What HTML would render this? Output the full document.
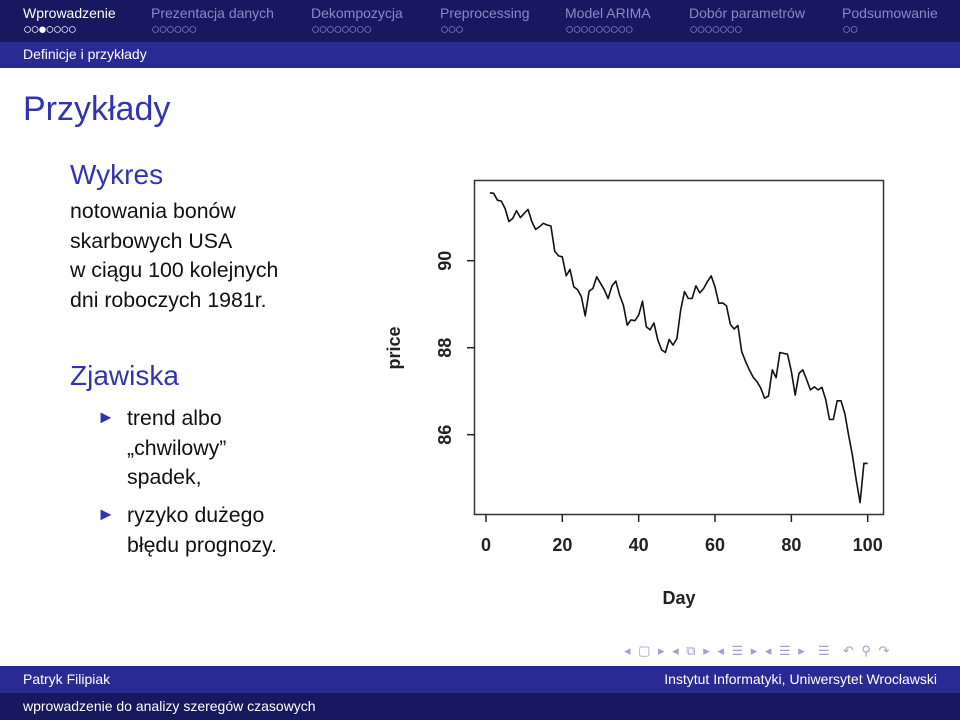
<!DOCTYPE html>
<html><head><meta charset="utf-8">
<style>
body{margin:0;width:960px;height:720px;position:relative;overflow:hidden;background:#fff;font-family:"Liberation Sans",sans-serif;}
.abs{position:absolute;white-space:nowrap;}
#top{left:0;top:0;width:960px;height:42px;background:#181860;}
#sub{left:0;top:42px;width:960px;height:26px;background:#2a2a94;}
.sec{top:5px;font-size:14px;color:#8a8ac4;}
.dots{top:21px;font-size:15px;color:#8a8ac4;letter-spacing:-1.6px;}
.blue{color:#3333b2;}
.txt{font-size:21.3px;color:#111;line-height:29.5px;}
#f1{left:0;top:666px;width:960px;height:27px;background:#2a2a94;}
#f2{left:0;top:693px;width:960px;height:27px;background:#181860;}
</style></head><body>
<div class="abs" id="top"></div>
<div class="abs sec" style="left:23px;color:#fff">Wprowadzenie</div>
<div class="abs sec" style="left:151px">Prezentacja danych</div>
<div class="abs sec" style="left:311px">Dekompozycja</div>
<div class="abs sec" style="left:440px">Preprocessing</div>
<div class="abs sec" style="left:565px">Model ARIMA</div>
<div class="abs sec" style="left:689px">Dobór parametrów</div>
<div class="abs sec" style="left:842px">Podsumowanie</div>
<div class="abs dots" style="left:23px;color:#fff">○○●○○○○</div>
<div class="abs dots" style="left:151px">○○○○○○</div>
<div class="abs dots" style="left:311px">○○○○○○○○</div>
<div class="abs dots" style="left:440px">○○○</div>
<div class="abs dots" style="left:565px">○○○○○○○○○</div>
<div class="abs dots" style="left:689px">○○○○○○○</div>
<div class="abs dots" style="left:842px">○○</div>
<div class="abs" id="sub"></div>
<div class="abs" style="left:23px;top:46px;font-size:14px;color:#fff">Definicje i przykłady</div>

<div class="abs blue" style="left:23px;top:90px;font-size:34px">Przykłady</div>
<div class="abs blue" style="left:70px;top:159px;font-size:28px">Wykres</div>
<div class="abs txt" style="left:70px;top:197px">notowania bonów<br>skarbowych USA<br>w ciągu 100 kolejnych<br>dni roboczych 1981r.</div>
<div class="abs blue" style="left:70px;top:360px;font-size:28px">Zjawiska</div>
<div class="abs blue" style="left:97px;top:407px;font-size:18px">►</div>
<div class="abs txt" style="left:127px;top:404px">trend albo<br>„chwilowy”<br>spadek,</div>
<div class="abs blue" style="left:97px;top:504px;font-size:18px">►</div>
<div class="abs txt" style="left:127px;top:501px">ryzyko dużego<br>błędu prognozy.</div>

<svg id="chart" class="abs" style="left:0;top:0" width="960" height="720"></svg>

<div class="abs" style="left:624px;top:643px;font-size:13px;color:#a0a0cc;letter-spacing:2px">◂ ▢ ▸ ◂ ⧉ ▸ ◂ ☰ ▸ ◂ ☰ ▸ &nbsp;☰ &nbsp;↶ ⚲ ↷</div>
<div class="abs" id="f1"></div>
<div class="abs" id="f2"></div>
<div class="abs" style="left:23px;top:671px;font-size:14px;color:#fff">Patryk Filipiak</div>
<div class="abs" style="right:23px;top:671px;font-size:14px;color:#fff">Instytut Informatyki, Uniwersytet Wrocławski</div>
<div class="abs" style="left:23px;top:698px;font-size:14px;color:#fff">wprowadzenie do analizy szeregów czasowych</div>

<script>
const days=[];for(let i=1;i<=100;i++)days.push(i);
const prices=[91.56,91.55,91.39,91.37,91.20,90.90,90.97,91.15,90.99,91.09,91.18,90.90,90.72,90.78,90.86,90.82,90.80,90.22,90.11,90.09,89.65,89.80,89.40,89.33,89.17,88.73,89.30,89.36,89.63,89.48,89.33,89.13,89.42,89.53,89.21,88.98,88.52,88.64,88.62,88.75,89.07,88.48,88.41,88.57,88.18,87.95,87.89,88.19,88.06,88.21,88.87,89.29,89.13,89.13,89.42,89.26,89.36,89.52,89.65,89.40,89.02,89.03,88.96,88.54,88.43,88.51,87.91,87.68,87.49,87.32,87.22,87.07,86.84,86.89,87.49,87.31,87.89,87.87,87.85,87.45,86.91,87.41,87.49,87.27,87.03,87.10,87.03,87.09,86.81,86.35,86.35,86.78,86.78,86.49,85.99,85.53,84.96,84.44,85.34,85.34];
const xTicks=[0,20,40,60,80,100];
const yTicks=[86,88,90];
const NS='http://www.w3.org/2000/svg';
const svg=document.getElementById('chart');
const X=d=>486+(d*(867.7-486)/100);
const Y=v=>260.7+(90-v)*43.5;
function mk(t,a){const e=document.createElementNS(NS,t);for(const k in a)e.setAttribute(k,a[k]);svg.appendChild(e);return e;}
const box=mk('rect',{x:474.5,y:180.5,width:409,height:334,fill:'none',stroke:'#333','stroke-width':1.5});


xTicks.forEach(t=>{
  const l=mk('line',{x1:X(t),x2:X(t),y1:515,y2:522,stroke:'#222','stroke-width':1.5});
  
  
  const tx=mk('text',{x:X(t),y:551,'text-anchor':'middle','font-size':18,'font-weight':'bold','font-family':'Liberation Sans, sans-serif',fill:'#222'});
  tx.textContent=t;
  
  
});
yTicks.forEach(t=>{
  const l=mk('line',{x1:467,x2:474.5,y1:Y(t),y2:Y(t),stroke:'#222','stroke-width':1.5});
  
  
  const tx=mk('text',{x:0,y:0,'text-anchor':'middle','font-size':18,'font-weight':'bold','font-family':'Liberation Sans, sans-serif',fill:'#222',transform:`translate(451,${Y(t)}) rotate(-90)`});
  tx.textContent=t;
  
  
});
const xt=mk('text',{x:679,y:604,'text-anchor':'middle','font-size':18,'font-weight':'bold','font-family':'Liberation Sans, sans-serif',fill:'#222'});
xt.textContent='Day';


const yt=mk('text',{x:0,y:0,'text-anchor':'middle','font-size':18,'font-weight':'bold','font-family':'Liberation Sans, sans-serif',fill:'#222',transform:'translate(400,348) rotate(-90)'});
yt.textContent='price';


const pts=prices.map((v,i)=>X(days[i]).toFixed(1)+','+Y(v).toFixed(1)).join(' ');
const pl=mk('polyline',{points:pts,fill:'none',stroke:'#111','stroke-width':1.6,'stroke-linejoin':'round'});


</script>
</body></html>
